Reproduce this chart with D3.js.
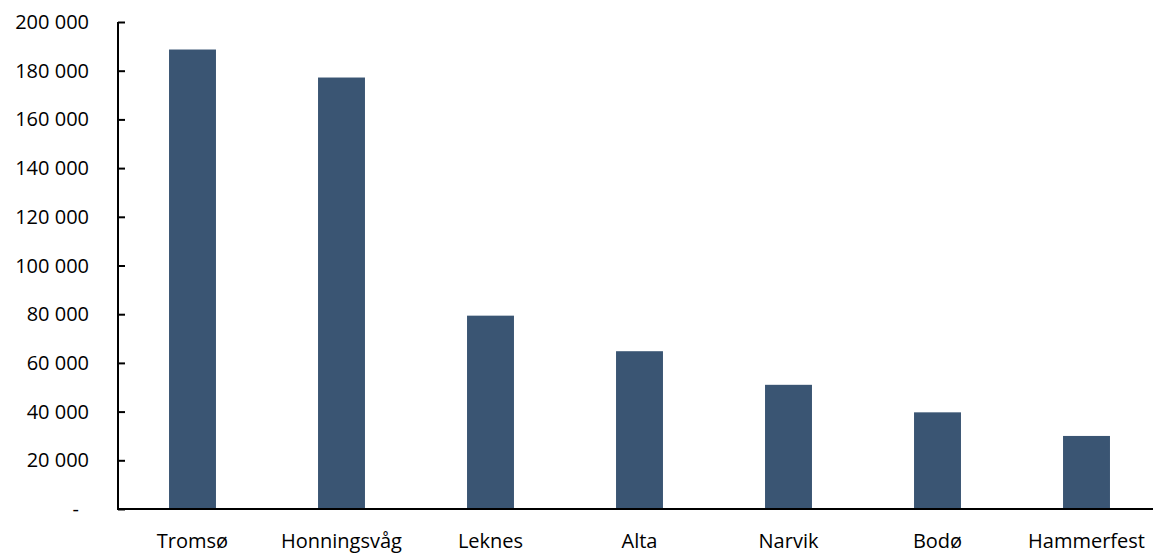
<!DOCTYPE html>
<html>
<head>
<meta charset="utf-8">
<script src="https://cdn.jsdelivr.net/npm/d3@7"></script>
<style>
  body { margin: 0; background: #fff; }
  svg text { font-family: "Open Sans", sans-serif; font-size: 20px; fill: #000; }
</style>
</head>
<body>
<svg width="1153" height="554"></svg>
<script>
const cities = ["Tromsø", "Honningsvåg", "Leknes", "Alta", "Narvik", "Bodø", "Hammerfest"];
const values = [188700, 177200, 79400, 64800, 51000, 39700, 30000];
const yTicks = [0, 20000, 40000, 60000, 80000, 100000, 120000, 140000, 160000, 180000, 200000];

(function () {
  "use strict";
  const svg = d3.select("svg");
  const width = +svg.attr("width");

  const axisX = 118;
  const top = 22;
  const bottom = 509;

  const data = cities.map((c, i) => ({ city: c, value: values[i] }));

  const xScale = d3.scaleBand()
    .domain(cities)
    .range([axisX, axisX + 149 * cities.length])
    .padding(0);

  const yScale = d3.scaleLinear()
    .domain([0, 200000])
    .range([bottom, top]);

  const barW = xScale.bandwidth() * 0.315;

  // bars
  svg.append("g")
    .selectAll("rect")
    .data(data)
    .join("rect")
    .attr("x", (d) => xScale(d.city) + (xScale.bandwidth() - barW) / 2)
    .attr("y", (d) => yScale(d.value))
    .attr("width", barW)
    .attr("height", (d) => yScale(0) - yScale(d.value))
    .attr("fill", "#3a5573");

  // y axis
  const fmt = (v) => (v === 0 ? "-" : d3.format(",")(v).replace(/,/g, " "));
  const yAxis = d3.axisRight(yScale)
    .tickValues(yTicks)
    .tickSize(7)
    .tickFormat("");
  const yAxisG = svg.append("g")
    .attr("transform", `translate(${axisX},0)`)
    .call(yAxis);
  yAxisG.select(".domain").attr("stroke", "#000").attr("stroke-width", 2)
    .attr("d", `M0,${top}V${bottom}`);
  yAxisG.selectAll(".tick line").attr("stroke", "#000").attr("stroke-width", 2);

  svg.append("g")
    .selectAll("text")
    .data(yTicks)
    .join("text")
    .attr("x", (d) => (d === 0 ? 79 : 89))
    .attr("y", (d) => yScale(d))
    .attr("dy", "0.35em")
    .attr("text-anchor", "end")
    .text(fmt);

  // x axis line
  svg.append("line")
    .attr("x1", axisX - 1)
    .attr("x2", width)
    .attr("y1", bottom)
    .attr("y2", bottom)
    .attr("stroke", "#000")
    .attr("stroke-width", 2);

  // category labels
  svg.append("g")
    .selectAll("text")
    .data(cities)
    .join("text")
    .attr("x", (d) => xScale(d) + xScale.bandwidth() / 2)
    .attr("y", 548)
    .attr("text-anchor", "middle")
    .text((d) => d);
})();
</script>
</body>
</html>
